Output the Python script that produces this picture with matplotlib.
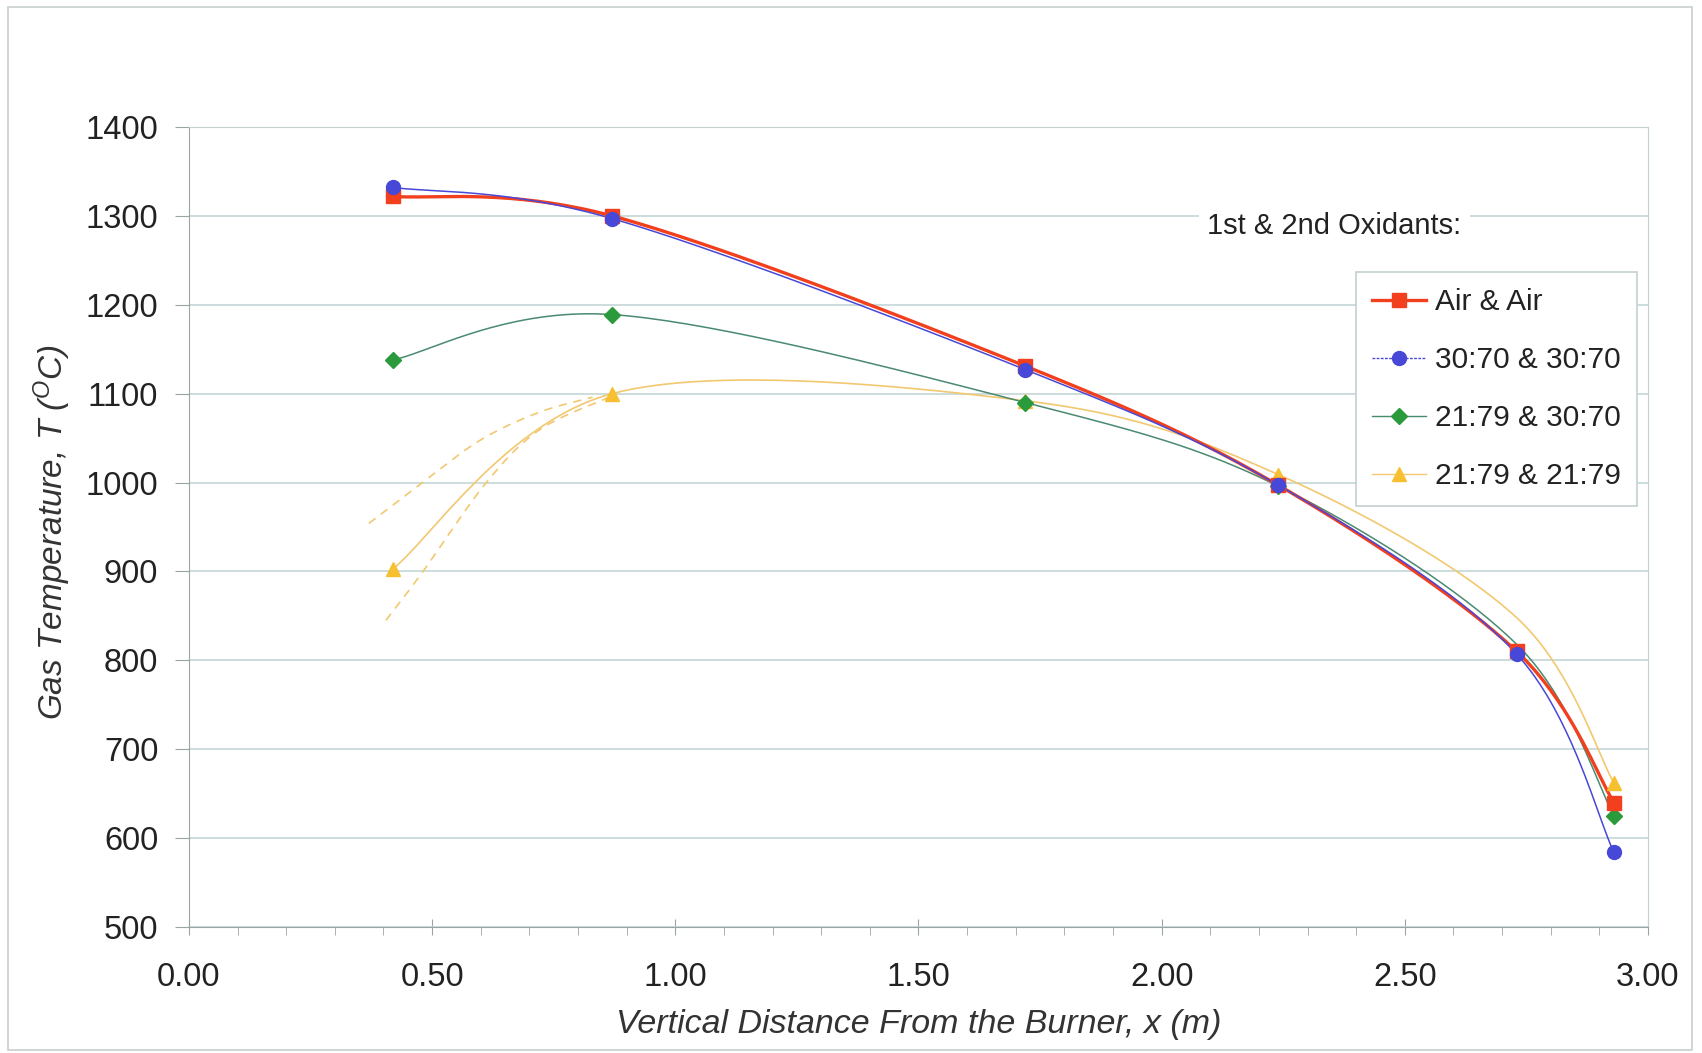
import numpy as np
import matplotlib
matplotlib.use("Agg")
import matplotlib.pyplot as plt
from matplotlib.patches import Rectangle

plt.rcParams['font.family'] = ['Liberation Sans', 'DejaVu Sans']
plt.rcParams['mathtext.fontset'] = 'custom'
plt.rcParams['mathtext.rm'] = 'Liberation Sans'
plt.rcParams['mathtext.it'] = 'Liberation Sans:italic'

# ---- data ----
x_air = [0.42, 0.87, 1.72, 2.24, 2.73, 2.93]
t_air = [1322, 1300, 1131, 997, 810, 640]

x_3070 = [0.42, 0.87, 1.72, 2.24, 2.73, 2.93]
t_3070 = [1332, 1297, 1127, 997, 807, 584]

# 21:79 & 30:70 (point at 2.73 drawn without marker)
x_2130 = [0.42, 0.87, 1.72, 2.24, 2.73, 2.93]
t_2130 = [1138, 1189, 1090, 996, 818, 625]
mk_2130 = [0, 1, 2, 3, 5]

# 21:79 & 21:79 (point at 2.73 drawn without marker)
x_2121 = [0.42, 0.87, 1.72, 2.24, 2.73, 2.93]
t_2121 = [903, 1100, 1092, 1009, 848, 662]
mk_2121 = [0, 1, 2, 3, 5]

# dashed bounds near burner (21:79 & 21:79)
x_up = [0.37, 0.48, 0.60, 0.72, 0.83]
t_up = [954, 1000, 1048, 1079, 1096]
x_lo = [0.405, 0.48, 0.61, 0.72, 0.86]
t_lo = [845, 899, 999, 1059, 1095]

labels = ["Air & Air", "30:70 & 30:70", "21:79 & 30:70", "21:79 & 21:79"]
yticks = list(range(500, 1401, 100))
xticks = [0.0, 0.5, 1.0, 1.5, 2.0, 2.5, 3.0]


def smooth(x, y, n=40):
    p = np.column_stack([x, y]).astype(float)
    out = []
    m = len(p)
    for i in range(m - 1):
        p0 = p[i - 1] if i > 0 else p[i]
        p1, p2 = p[i], p[i + 1]
        p3 = p[i + 2] if i + 2 < m else p[i + 1]
        c1 = p1 + (p2 - p0) / 6.0
        c2 = p2 - (p3 - p1) / 6.0
        t = np.linspace(0, 1, n)[:, None]
        seg = ((1 - t) ** 3) * p1 + 3 * ((1 - t) ** 2) * t * c1 + 3 * (1 - t) * t ** 2 * c2 + t ** 3 * p2
        out.append(seg if i == 0 else seg[1:])
    s = np.vstack(out)
    return s[:, 0], s[:, 1]


W, H = 1702, 1053
fig = plt.figure(figsize=(W / 100, H / 100), dpi=100)
fig.patch.set_facecolor('white')
fig.add_artist(Rectangle((8 / W, 3 / H), 1 - 18 / W, 1 - 10 / H, transform=fig.transFigure,
                         fill=False, edgecolor='#c8d0d0', lw=1.2))

ax = fig.add_axes([188.9 / W, 1 - 927 / H, (1648 - 188.9) / W, (927 - 127) / H])

red = '#f2401e'
blue = '#4848d8'
green_m = '#2a9a3c'
green_l = '#4a8a70'
yel_m = '#f6c030'
yel_l = '#f2c870'

sx, sy = smooth(x_2121, t_2121)
ax.plot(sx, sy, color=yel_l, lw=1.2, zorder=2)
ax.plot([x_2121[i] for i in mk_2121], [t_2121[i] for i in mk_2121], ls='none', marker='^',
        ms=10, color=yel_m, zorder=5)
for xa, ta in [(x_up, t_up), (x_lo, t_lo)]:
    dx, dy = smooth(xa, ta)
    ax.plot(dx, dy, color=yel_l, lw=1.2, ls=(0, (5, 4)), zorder=2)

sx, sy = smooth(x_2130, t_2130)
ax.plot(sx, sy, color=green_l, lw=1.1, zorder=3)
ax.plot([x_2130[i] for i in mk_2130], [t_2130[i] for i in mk_2130], ls='none', marker='D',
        ms=8, color=green_m, zorder=5)

sx, sy = smooth(x_air, t_air)
ax.plot(sx, sy, color=red, lw=2.4, zorder=4)
ax.plot(x_air, t_air, ls='none', marker='s', ms=10, color=red, zorder=5)

sx, sy = smooth(x_3070, t_3070)
ax.plot(sx, sy, color=blue, lw=1.1, zorder=4)
ax.plot(x_3070, t_3070, ls='none', marker='o', ms=10, color=blue, zorder=6)

ax.set_xlim(0, 3.0)
ax.set_ylim(500, 1400)
ax.set_yticks(yticks)
ax.set_xticks(xticks)
ax.set_xticks(np.arange(0, 3.001, 0.1), minor=True)
ax.set_xticklabels([f"{v:.2f}" for v in xticks])
ax.grid(axis='y', color='#c4d6d6', lw=1.2)
ax.set_axisbelow(True)
for s in ['top', 'right']:
    ax.spines[s].set_color('#c4d0d0')
for s in ['left', 'bottom']:
    ax.spines[s].set_color('#9aa4a4')
ax.tick_params(axis='y', which='major', length=10, direction='out', color='#9aa4a4',
               labelsize=23.5, labelcolor='#222222', pad=12)
ax.tick_params(axis='x', which='major', length=12, direction='inout', color='#9aa4a4',
               labelsize=23.5, labelcolor='#222222', pad=19)
ax.tick_params(axis='x', which='minor', length=6, direction='out', color='#9aa4a4')

xl = ax.set_xlabel("Vertical Distance From the Burner, x (m)", fontsize=24.5, style='italic',
                   color='#333333')
xl.set_verticalalignment('center')
ax.xaxis.set_label_coords(0.5, (927 - 1025) / 800)
yl = ax.set_ylabel(r"Gas Temperature, T ($^{O}$C)", fontsize=24, style='italic',
                   color='#333333')
yl.set_verticalalignment('center')
ax.yaxis.set_label_coords((52 - 188.9) / 1459, (927 - 532) / 800)

fig.text(1207 / W, 1 - 226 / H, "1st & 2nd Oxidants:", fontsize=21, color='#222222',
         va='center', ha='left',
         bbox=dict(facecolor='white', edgecolor='none', pad=6))

handles = [
    plt.Line2D([], [], color=red, lw=2.4, marker='s', ms=10),
    plt.Line2D([], [], color=blue, lw=1.0, ls=(0, (2, 1)), marker='o', ms=10),
    plt.Line2D([], [], color=green_l, lw=1.0, marker='D', ms=8, mfc=green_m, mec=green_m),
    plt.Line2D([], [], color=yel_l, lw=1.0, marker='^', ms=10, mfc=yel_m, mec=yel_m),
]
leg = fig.legend(handles, labels, loc='upper left', bbox_to_anchor=(1356 / W, 1 - 272 / H),
                 bbox_transform=fig.transFigure, fontsize=21.5, frameon=True, fancybox=False,
                 edgecolor='#c4d0d0', framealpha=1, handlelength=1.8, handletextpad=0.3,
                 labelspacing=1.0, borderpad=0.55, borderaxespad=0)
leg.get_frame().set_linewidth(1.2)
for t in leg.get_texts():
    t.set_color('#222222')

fig.savefig('out.png', dpi=100, facecolor='white')
